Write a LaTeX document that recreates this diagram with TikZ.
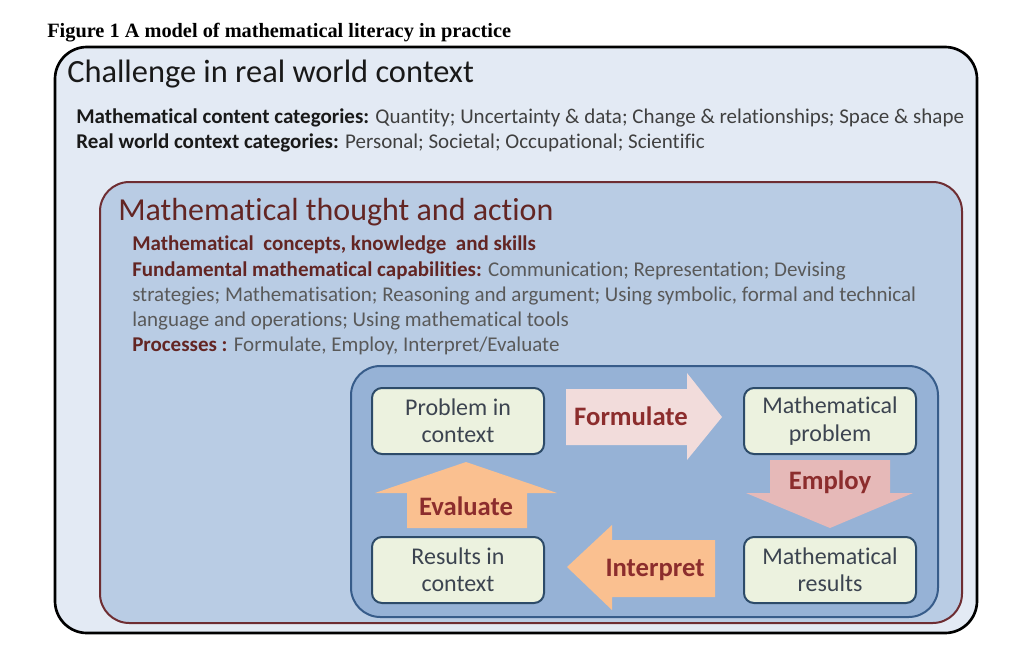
\documentclass[tikz,border=0pt]{standalone}
\usepackage{fontspec}
\setmainfont{Carlito}[Ligatures=CommonOff]
\newfontfamily\captionfont{Liberation Serif}
\usepackage{xcolor}

\definecolor{worldfill}{RGB}{227,234,244}
\definecolor{thoughtfill}{RGB}{185,204,228}
\definecolor{thoughtline}{RGB}{110,45,50}
\definecolor{cyclefill}{RGB}{150,178,214}
\definecolor{cycleline}{RGB}{55,92,138}
\definecolor{stagefill}{RGB}{236,242,223}
\definecolor{stageline}{RGB}{45,75,105}
\definecolor{stagetext}{RGB}{60,68,80}
\definecolor{darkred}{RGB}{99,37,35}
\definecolor{arrowtext}{RGB}{140,45,45}
\definecolor{formfill}{RGB}{242,220,219}
\definecolor{empfill}{RGB}{230,185,184}
\definecolor{orangefill}{RGB}{250,192,144}

\begin{document}
\begin{tikzpicture}[x=0.75pt, y=-0.75pt,
        stage/.style={draw=stageline, line width=1.5pt, fill=stagefill, rounded corners=7.5pt,
            minimum width=129pt, minimum height=49.5pt, align=center, text=stagetext,
            font=\fontsize{18}{20.5}\selectfont},
        blocklabel/.style={anchor=base, text=arrowtext, font=\fontsize{20}{24}\selectfont\bfseries},
        textline/.style={anchor=base west, inner sep=0pt, font=\fontsize{15.75}{19}\selectfont}]
        \useasboundingbox (0,0) rectangle (1024,658);

        % Caption
        \node[anchor=base west, inner sep=0pt, font=\captionfont\bfseries\fontsize{15.25}{18}\selectfont] (caption) at (47,37)
            {Figure 1 A model of mathematical literacy in practice};

        % Boxes
        \draw[line width=2pt, fill=worldfill, rounded corners=24pt] (55,47) rectangle (977,633);
        \draw[line width=1.5pt, draw=thoughtline, fill=thoughtfill, rounded corners=22pt] (100,182) rectangle (962,623);
        \draw[line width=1.5pt, draw=cycleline, fill=cyclefill, rounded corners=22pt] (351,366) rectangle (938,617);

        % Real world context
        \node[anchor=base west, inner sep=0pt, text=black!90, font=\fontsize{24.3}{28}\selectfont] (worldtitle) at (67,82)
            {Challenge in real world context};
        \node[textline, text=black!75] (content) at (76,123)
            {\textcolor{black!90}{\bfseries Mathematical content categories:} Quantity; Uncertainty \& data; Change \& relationships; Space \& shape};
        \node[textline, text=black!75] (context) at (76,148)
            {\textcolor{black!90}{\bfseries Real world context categories:} Personal; Societal; Occupational; Scientific};

        % Mathematical thought and action
        \node[anchor=base west, inner sep=0pt, text=darkred, font=\fontsize{24}{28}\selectfont] (thoughttitle) at (118,220)
            {Mathematical thought and action};
        \node[textline, text=darkred] (concepts) at (132,250)
            {\bfseries Mathematical\ \ concepts, knowledge\ \ and skills};
        \node[textline, text=black!65] (capab1) at (132,276)
            {\textcolor{darkred}{\bfseries Fundamental mathematical capabilities:} Communication; Representation; Devising};
        \node[textline, text=black!65] (capab2) at (132,301)
            {strategies; Mathematisation; Reasoning and argument; Using symbolic, formal and technical};
        \node[textline, text=black!65] (capab3) at (132,326)
            {language and operations; Using mathematical tools};
        \node[textline, text=black!65] (processes) at (132,351)
            {\textcolor{darkred}{\bfseries Processes :} Formulate, Employ, Interpret/Evaluate};

        % Cycle
        \node[stage] (probctx) at (458,421) {Problem in\\context};
        \node[stage] (mathprob) at (830,421) {Mathematical\\problem};
        \node[stage] (mathres) at (830,570) {Mathematical\\results};
        \node[stage] (resctx) at (458,570) {Results in\\context};

        \fill[formfill] (566,389) -- (687,389) -- (687,373) -- (722,417) -- (687,460) -- (687,445) -- (566,445) -- cycle;
        \fill[empfill] (770,460) -- (890,460) -- (890,493) -- (913,493) -- (830,528) -- (746,493) -- (770,493) -- cycle;
        \fill[orangefill] (715,540) -- (612,540) -- (612,525) -- (567,567) -- (612,610) -- (612,597) -- (715,597) -- cycle;
        \fill[orangefill] (407,528) -- (407,493) -- (375,493) -- (466,462) -- (557,493) -- (527,493) -- (527,528) -- cycle;

        \node[blocklabel] (formulate) at (631,425) {Formulate};
        \node[blocklabel] (employ) at (830,489) {Employ};
        \node[blocklabel] (interpret) at (655,576) {Interpret};
        \node[blocklabel] (evaluate) at (466,515) {Evaluate};
\end{tikzpicture}
\end{document}
